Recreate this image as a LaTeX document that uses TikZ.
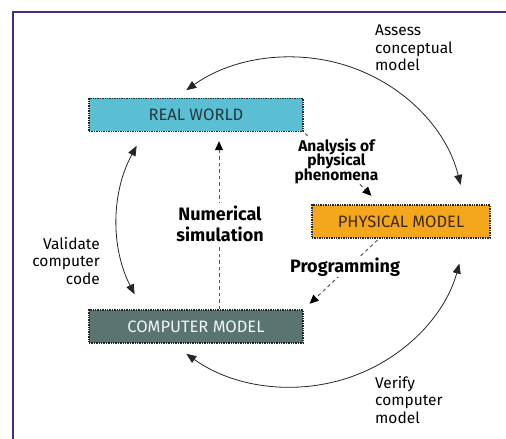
\documentclass[tikz,border=0pt]{standalone}
\usepackage{fontspec}
\setmainfont{Fira Sans}
\usetikzlibrary{arrows.meta,calc}
\definecolor{framepurple}{HTML}{4B2C7E}
\definecolor{rwfill}{HTML}{5BBFD4}
\definecolor{pmfill}{HTML}{F5A71C}
\definecolor{cmfill}{HTML}{5A7571}
\definecolor{rwtext}{HTML}{24383E}
\definecolor{pmtext}{HTML}{3A2A12}
\tikzset{
  stagebox/.style={draw=black!85, densely dotted, line width=1.4pt,
    minimum height=33pt, inner sep=0pt, font=\fontsize{16.5}{18}\selectfont},
  loop/.style={line width=0.8pt, black!85,
    {Triangle[length=10pt,width=8pt]}-{Triangle[length=10pt,width=8pt]}},
  flowline/.style={line width=1pt, black!65, dash pattern=on 3.5pt off 3pt},
  flow/.style={flowline, -{Triangle[length=9pt,width=8pt,fill=black,color=black]}},
  note/.style={font=\fontsize{15.5}{17.5}\selectfont, inner sep=0pt},
  boldnote/.style={font=\bfseries\fontsize{18}{21}\selectfont, align=center, fill=white, inner sep=3pt}
}
\begin{document}
% let closely spaced lines keep their baseline distance
\lineskiplimit=-100pt\relax
\begin{tikzpicture}[x=1pt,y=1pt]
\useasboundingbox (0,0) rectangle (506,439);
\fill[white] (0,0) rectangle (506,439);
% frame
\draw[framepurple, line width=2pt] (13,0) -- (13,427) -- (506,427);

% the three stages
\node[stagebox, fill=rwfill, text=rwtext, minimum width=214pt] (rw) at (196,324) {REAL WORLD};
\node[stagebox, fill=pmfill, text=pmtext, minimum width=178pt] (pm) at (401,217.5) {PHYSICAL MODEL};
\node[stagebox, fill=cmfill, text=white!92!cmfill, minimum width=214pt] (cm) at (196,112.5) {COMPUTER MODEL};

% outer cycle of checks
\coordinate (ctr) at (291,217);
\coordinate (a1) at ($(ctr)+(13:174 and 165)$);
\coordinate (b1) at ($(ctr)+(152.5:174 and 165)$);
\coordinate (c1) at ($(ctr)+(233:174 and 165)$);
\draw[loop] (a1) arc[start angle=13, end angle=127, x radius=174, y radius=165];
\draw[loop] (b1) arc[start angle=152.5, end angle=206, x radius=174, y radius=165];
\draw[loop] (c1) arc[start angle=233, end angle=345.4, x radius=174, y radius=165];

% closely set label that interrupts the first flow line
\node[font=\bfseries\fontsize{15.5}{14.5}\selectfont,
      align=center, inner sep=0pt] (lap) at (336.5,278) {Analysis of\\physical\\phenomena};

% inner flow
\draw[flowline, shorten <=2pt, shorten >=1pt] (rw.south east) -- (lap);
\draw[flow, shorten <=1pt, shorten >=12pt] (lap) -- ([xshift=-21pt]pm.north);
\draw[flow, shorten <=2pt, shorten >=8pt] ([xshift=-22pt]pm.south) -- (cm.north east);
\draw[flow, shorten >=9pt] ([xshift=23pt]cm.north) -- ([xshift=23pt]rw.south);

% labels
\node[boldnote] (lns) at (220,215) {Numerical\\simulation};
\node[boldnote, inner sep=1pt] (lpr) at (345,172) {Programming};
\node[note, anchor=north west, align=left] (lac) at (375,414) {Assess\\conceptual\\model};
\node[note, anchor=north east, align=right] (lvc) at (100,202) {Validate\\computer\\code};
\node[note, anchor=north west, align=left] (lvm) at (375,63) {Verify\\computer\\model};
\end{tikzpicture}
\end{document}
